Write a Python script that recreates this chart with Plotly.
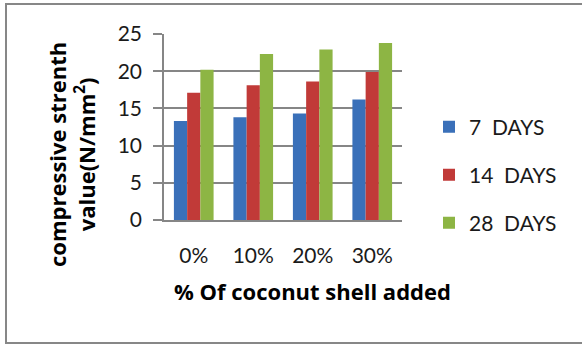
import plotly.graph_objects as go

categories = ["0%", "10%", "20%", "30%"]
series_names = ["7  DAYS", "14  DAYS", "28  DAYS"]
days_7 = [13.3, 13.8, 14.3, 16.2]
days_14 = [17.1, 18.1, 18.6, 19.9]
days_28 = [20.2, 22.3, 22.9, 23.8]
y_ticks = [0, 5, 10, 15, 20, 25]

colors = ["#3a70b9", "#c13a38", "#8db544"]
FONT = "Lato"
TFONT = "Open Sans"

L, R, T, B = 164, 180, 34, 125
W, H = 582, 345
pw, ph = W - L - R, H - T - B

def px(x):
    return (x - L) / pw

def py(y):
    return (H - B - y) / ph

legend_ids = ["legend", "legend2", "legend3"]
legend_y = [127, 175, 223]

fig = go.Figure()
for name, vals, col, lid in zip(series_names, [days_7, days_14, days_28], colors, legend_ids):
    fig.add_trace(go.Bar(x=categories, y=vals, name=name, legend=lid,
                         marker=dict(color=col, line=dict(width=0))))

legend_common = dict(xanchor="left", yanchor="middle",
                     font=dict(family=FONT, size=21, color="#1a1a1a"),
                     bgcolor="rgba(0,0,0,0)", itemwidth=30)
legend_layout = {}
for lid, ly in zip(legend_ids, legend_y):
    legend_layout[lid] = dict(x=px(429), y=py(ly), **legend_common)

fig.update_layout(
    width=W, height=H,
    margin=dict(l=L, r=R, t=T, b=B, pad=0),
    paper_bgcolor="white", plot_bgcolor="white",
    barmode="group", bargap=0.333, bargroupgap=0,
    font=dict(family=FONT, size=21, color="#1a1a1a"),
    showlegend=True,
    xaxis=dict(showline=True, linecolor="#868686", linewidth=1.5,
               ticks="", tickfont=dict(size=21), showgrid=False,
               ticklabelstandoff=16),
    yaxis=dict(range=[0, 25], tickvals=y_ticks, showgrid=True,
               gridcolor="#868686", gridwidth=1.5, showline=True,
               linecolor="#868686", linewidth=1.5, ticks="outside",
               ticklen=9, tickcolor="#868686", tickwidth=1.5,
               tickfont=dict(size=21), zeroline=False, ticklabelstandoff=7),
    shapes=[dict(type="rect", xref="paper", yref="paper",
                 x0=px(6), x1=px(600), y0=py(343), y1=py(4),
                 line=dict(color="#878787", width=2), fillcolor="rgba(0,0,0,0)",
                 layer="below")],
    annotations=[
        dict(text="<b>compressive strenth<br>value(N/mm<sup>2</sup>)</b>",
             xref="paper", yref="paper", x=px(71), y=py(155),
             xanchor="center", yanchor="middle", textangle=-90,
             showarrow=False, font=dict(family=TFONT, size=22, color="#000"),
             align="center"),
        dict(text="<b>% Of coconut shell added</b>",
             xref="paper", yref="paper", x=px(312), y=py(291),
             xanchor="center", yanchor="middle", showarrow=False,
             font=dict(family=TFONT, size=22, color="#000")),
    ],
    **legend_layout,
)

fig.write_html("out.html")
